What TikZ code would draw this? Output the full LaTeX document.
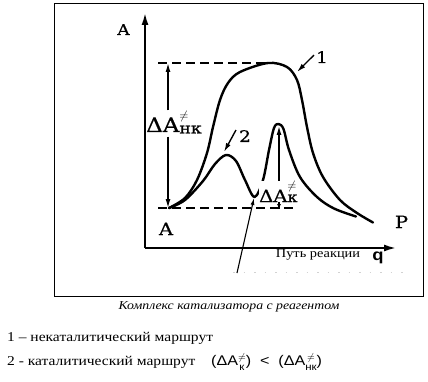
\documentclass[tikz,border=0pt]{standalone}
\usepackage{fontspec}
\setmainfont{Liberation Serif}[FakeStretch=1.15]
\newfontfamily\diagfont{DejaVu Serif}[FakeStretch=1.15,FakeBold=0.6]
\newfontfamily\sansfnt{Liberation Sans}[FakeStretch=1.15]
\usetikzlibrary{arrows.meta}
\newcommand\fs[1]{\fontsize{#1}{#1}\selectfont}
\newcommand\stk[1]{\raisebox{-5pt}{\fs{10}\begin{tabular}[b]{@{}c@{}}\fontsize{10}{14}\selectfont$\neq$\\#1\end{tabular}}}
\begin{document}
\begin{tikzpicture}[x=1pt,y=-1pt,
  curve/.style={line width=2.4pt, line join=round, line cap=round},
  axisline/.style={line width=1.8pt, -{Latex[length=12pt,width=7pt]}},
  dline/.style={line width=1.6pt, dash pattern=on 9pt off 5pt},
  tipline/.style={line width=1.4pt, -{Latex[length=9pt,width=5pt]}},
  thinarrow/.style={line width=1.1pt, -{Latex[length=7pt,width=4pt]}},
  lbl/.style={font=\diagfont\fs{16}, inner sep=0pt, anchor=base},
  dlbl/.style={font=\diagfont\fs{20}, inner sep=0pt, anchor=base west, fill=white},
]
\useasboundingbox (0,0) rectangle (428,382);
% frame
\draw[line width=1pt] (54,4) rectangle (423,296);
% axes
\coordinate (O) at (145,248);
\coordinate (ytip) at (145,13);
\coordinate (xtip) at (396,248);
\draw[axisline] (O) -- (ytip);
\draw[axisline] (O) -- (xtip);
% labels
\node[lbl, font=\diagfont\fs{15}] (Atop) at (123.5,35) {A};
\node[lbl, font=\diagfont\fs{17}] (Abot) at (166,235) {A};
\node[lbl, font=\diagfont\fs{17}] (P) at (401.5,228) {P};
\node[lbl, font=\sansfnt\bfseries\fs{16}] (q) at (378,260) {q};
\node[lbl, font=\fs{12.5}] (path) at (318,257) {Путь реакции};
% dashed levels
\coordinate (dl1) at (158,63);
\coordinate (dr1) at (268,63);
\coordinate (dl2) at (158,208);
\coordinate (dr2) at (293,208);
\draw[dline] (dl1) -- (dr1);
\draw[dline] (dl2) -- (dr2);
% curves
\draw[curve] plot[smooth, tension=0.55] coordinates {
 (169,208) (185,198) (197,180) (207,153) (213,127) (220,100) (228,83) (240,72)
 (268,63) (287,67) (297,80) (302,100) (307,127) (313,153) (323,177) (340,200)
 (357,213) (373,222.5)};
\draw[curve] plot[smooth, tension=0.55] coordinates {
 (169,208) (185,200) (203,181) (215,164) (226,155) (236,161) (245,180) (254.5,197)
 (263,180) (269,150) (274,128) (278.5,124) (283.5,129) (289,150) (300,177) (317,197)
 (334,208.5) (356,216.5)};
% Delta A_nk
\node[dlbl] (dnk) at (146,132) {ΔA\rlap{\raisebox{12pt}{\fs{13}$\neq$}}\raisebox{-1.5pt}{\fs{15}нк}};
\coordinate (nkTop) at (168,63);
\coordinate (nkBot) at (168,208);
\draw[tipline] (nkTop |- dnk.north) ++(0,-1) -- (nkTop);
\draw[tipline] (nkBot |- dnk.south) ++(0,3) -- (nkBot);
% Delta A_k
\coordinate (kTop) at (279,126);
\coordinate (kBot) at (279,209);
\draw[tipline] (kBot) -- (kTop);
\node[dlbl, font=\diagfont\fs{17}] (dk) at (259,202) {ΔA\rlap{\raisebox{13pt}{\fs{13}$\neq$}}\fs{14}к};
\draw[thinarrow, -{Latex[length=5pt,width=4pt]}] (dk.south -| kBot) -- (kBot);
% curve labels
\node[lbl] (one) at (322,63) {1};
\coordinate (oneT) at (297,72);
\draw[tipline] (one.west) ++(-2,-2) -- (oneT);
\node[lbl] (two) at (245,142) {2};
\coordinate (twoT) at (224,152);
\draw[tipline] (two.west) ++(-3,-6) -- (twoT);
% long arrow to valley
\coordinate (lstart) at (237,273);
\coordinate (valley) at (254,198);
\draw[thinarrow] (lstart) -- (valley);
% faint dots
\coordinate (fd1) at (233,272);
\coordinate (fd2) at (404,272);
\draw[gray!35, line width=0.9pt, dash pattern=on 1.5pt off 9pt] (fd1) -- (fd2);
% caption
\node[font=\itshape\fs{12}, inner sep=0pt, anchor=base] (cap) at (229,309) {Комплекс катализатора с реагентом};
\node[font=\fs{13.5}, inner sep=0pt, anchor=base west] (l1) at (7,341.5) {1 – некаталитический маршрут};
\node[font=\fs{13.5}, inner sep=0pt, anchor=base west] (l2) at (7,365) {2 - каталитический маршрут};
\node[font=\sansfnt\fs{14}, inner sep=0pt, anchor=base west] (frm) at (211,365) {(ΔA\stk{к})\ \ <\ \ (ΔA\stk{нк})};
\end{tikzpicture}
\end{document}
